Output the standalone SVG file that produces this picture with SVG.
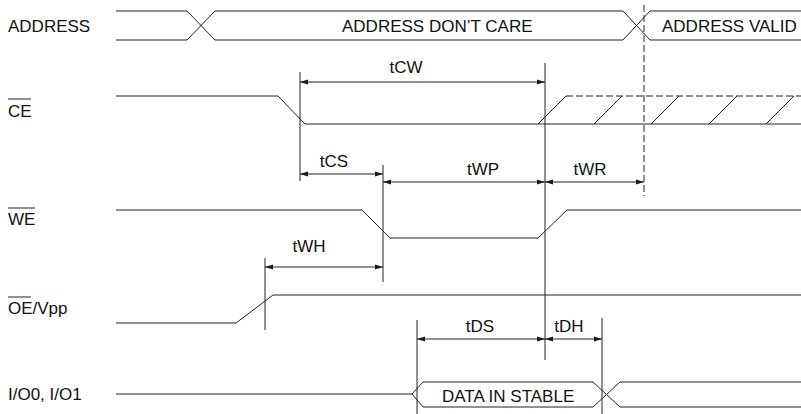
<svg xmlns="http://www.w3.org/2000/svg" width="801" height="414" viewBox="0 0 801 414">
<defs>
<marker id="ah" viewBox="0 0 8 6" refX="8" refY="3" markerWidth="8" markerHeight="6" markerUnits="userSpaceOnUse" orient="auto-start-reverse">
<path d="M0,0.6 L8,3 L0,5.4 Z" fill="#1a1a1a"/>
</marker>
</defs>
<style>
.w{fill:none;stroke:#222;stroke-width:1}
.d{fill:none;stroke:#222;stroke-width:1;stroke-dasharray:7 3}
.t{font-family:"Liberation Sans",Arial,sans-serif;font-size:17px;fill:#111}
.m{text-anchor:middle}
.ol{stroke:#222;stroke-width:1}
.dim{fill:none;stroke:#222;stroke-width:1;marker-start:url(#ah);marker-end:url(#ah)}
.v{fill:none;stroke:#222;stroke-width:1}
</style>
<rect width="801" height="414" fill="#fff"/>

<g id="address">
<text class="t" x="8" y="32">ADDRESS</text>
<path class="w" d="M116,11 H187 L215,40 H623 L650,11 H801"/>
<path class="w" d="M116,40 H187 L215,11 H623 L650,40 H801"/>
<text class="t" x="342" y="32">ADDRESS DON’T CARE</text>
<text class="t" x="662" y="32">ADDRESS VALID</text>
</g>

<g id="ce">
<text class="t" x="8" y="117">CE</text>
<line class="ol" x1="8" y1="99" x2="31" y2="99"/>
<path class="w" d="M116,96 H278 L305,124 H801"/>
<path class="w" d="M538,124 L566,96"/>
<path class="d" d="M566,96 H801"/>
<path class="w" d="M594,124 L622,96 M651,124 L679,96 M709,124 L737,96 M766,124 L794,96"/>
</g>

<g id="we">
<text class="t" x="8" y="225">WE</text>
<line class="ol" x1="8" y1="208" x2="35" y2="208"/>
<path class="w" d="M116,210 H362 L390,238 H538 L567,210 H801"/>
</g>

<g id="oe">
<text class="t" x="8" y="314">OE/Vpp</text>
<line class="ol" x1="8" y1="297" x2="31" y2="297"/>
<path class="w" d="M116,323 H236 L273,295 H801"/>
</g>

<g id="io">
<text class="t" x="8" y="400">I/O0, I/O1</text>
<path class="w" d="M116,394 H412 L423,382 H593 L620,407 H801"/>
<path class="w" d="M412,394 L423,407 H593 L620,382 H801"/>
<text class="t" x="442" y="402">DATA IN STABLE</text>
</g>

<g id="connectors">
<line class="v" x1="300" y1="72" x2="300" y2="181"/>
<line class="v" x1="545" y1="63" x2="545" y2="360"/>
<line class="d" x1="644" y1="5" x2="644" y2="196"/>
<line class="v" x1="383" y1="165" x2="383" y2="282"/>
<line class="v" x1="265" y1="258" x2="265" y2="330"/>
<line class="v" x1="417" y1="320" x2="417" y2="414"/>
<line class="v" x1="602" y1="318" x2="602" y2="414"/>

<line class="dim" x1="300" y1="82" x2="545" y2="82"/>
<line class="dim" x1="300" y1="174" x2="383" y2="174"/>
<line class="dim" x1="383" y1="182" x2="545" y2="182"/>
<line class="dim" x1="545" y1="182" x2="644" y2="182"/>
<line class="dim" x1="265" y1="267" x2="383" y2="267"/>
<line class="dim" x1="417" y1="339" x2="545" y2="339"/>
<line class="dim" x1="545" y1="339" x2="602" y2="339"/>

<text class="t m" x="406" y="73">tCW</text>
<text class="t m" x="334" y="167">tCS</text>
<text class="t m" x="483" y="175">tWP</text>
<text class="t m" x="590" y="175">tWR</text>
<text class="t m" x="309" y="252">tWH</text>
<text class="t m" x="480" y="332">tDS</text>
<text class="t m" x="569" y="332">tDH</text>
</g>
</svg>
